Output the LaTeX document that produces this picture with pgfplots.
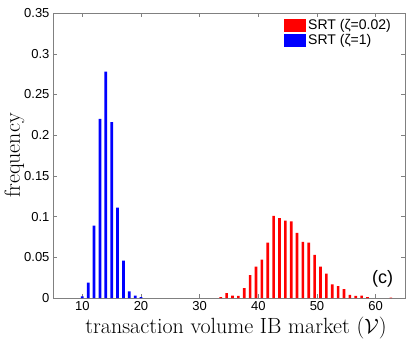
\documentclass[border=0pt]{standalone}
\usepackage{fontspec}
\usepackage{pgfplots}
\pgfplotsset{compat=1.18}
\newfontfamily\hv{Liberation Sans}
\begin{document}
\begin{tikzpicture}
\begin{axis}[
  scale only axis,
  width=352pt, height=285pt,
  xmin=5, xmax=65,
  ymin=0, ymax=0.35,
  xtick={10,20,...,60},
  ytick={0,0.05,...,0.35},
  axis line style={gray},
  tick style={gray, thin},
  major tick length=4pt,
  yticklabel style={/pgf/number format/fixed, /pgf/number format/precision=2},
  tick label style={font=\hv\fontsize{13}{15}\selectfont, /pgf/number format/assume math mode=true},
  xlabel={transaction volume IB market ($\mathcal{V}$)},
  ylabel={frequency},
  label style={font=\fontsize{22}{24}\selectfont},
  xlabel style={at={(axis description cs:0.5,0)}, anchor=base, yshift=-35pt, xshift=7pt},
  ylabel style={at={(axis description cs:0,0.5)}, anchor=base, yshift=33pt},
  legend style={at={(1,1)}, anchor=north east, draw=none, fill=none,
    font=\hv\fontsize{14}{16}\selectfont,
    xshift=-10pt, yshift=-2pt, inner xsep=2pt, inner ysep=2pt, row sep=0pt},
  legend cell align=left,
  legend image code/.code={\fill[#1] (0pt,-6.5pt) rectangle (22pt,6.5pt);},
]
\addplot[ybar, bar width=0.45, bar shift=0pt, fill=red, draw=none] coordinates {
(33.6,0.001) (34.6,0.006) (35.6,0.003) (36.6,0.0025) (37.6,0.012) (38.6,0.028)
(39.6,0.0385) (40.6,0.047) (41.6,0.068) (42.6,0.101) (43.6,0.098) (44.6,0.095)
(45.6,0.094) (46.6,0.080) (47.6,0.069) (48.6,0.068) (49.6,0.053) (50.6,0.0385)
(51.6,0.030) (52.6,0.0166) (53.6,0.0146) (54.6,0.011) (55.6,0.004) (56.6,0.0025)
(57.6,0.003) (58.6,0.001) (62.6,0.0006)
};
\addlegendentry{SRT (ζ=0.02)}
\addplot[ybar, bar width=0.47, bar shift=0pt, fill=blue, draw=none] coordinates {
(10,0.002) (11,0.019) (12,0.089) (13,0.220) (14,0.278) (15,0.216)
(16,0.111) (17,0.046) (18,0.008) (19,0.003) (20,0.001)
};
\addlegendentry{SRT (ζ=1)}
\node[font=\hv\fontsize{18}{20}\selectfont] at (axis cs:61.2,0.0235) {(c)};
\end{axis}
\path[use as bounding box] (current axis.south west) ++(-53pt,-41pt) rectangle ([xshift=6pt,yshift=13pt]current axis.north east);
\end{tikzpicture}
\end{document}
